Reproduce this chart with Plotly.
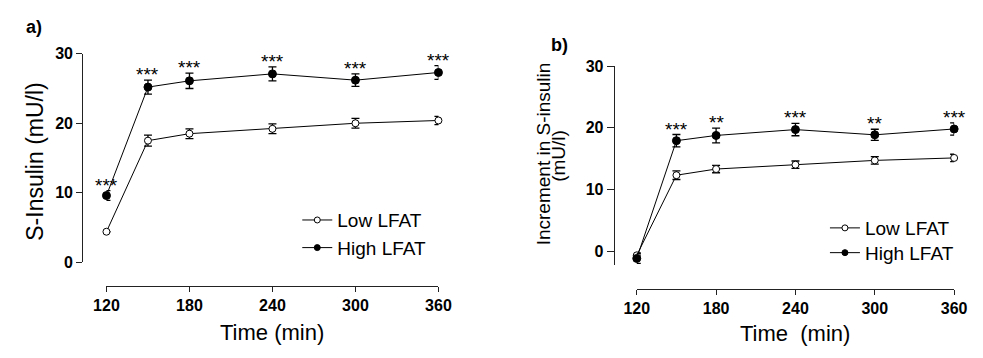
import plotly.graph_objects as go

W, H = 983, 358

# ---- data ----
time = [120, 150, 180, 240, 300, 360]
tick_vals = [120, 180, 240, 300, 360]

a_low = [4.4, 17.5, 18.5, 19.2, 20.0, 20.4]
a_low_err = [0.0, 0.8, 0.7, 0.7, 0.7, 0.6]
a_high = [9.6, 25.2, 26.1, 27.1, 26.2, 27.3]
a_high_err = [0.7, 1.0, 1.1, 1.0, 0.9, 1.0]
a_stars = ["***", "***", "***", "***", "***", "***"]

b_low = [-0.7, 12.3, 13.3, 14.0, 14.7, 15.1]
b_low_err = [0.4, 0.7, 0.6, 0.6, 0.6, 0.6]
b_high = [-1.2, 17.9, 18.75, 19.7, 18.85, 19.8]
b_high_err = [0.8, 1.0, 1.2, 1.0, 0.9, 1.0]
b_stars = ["", "***", "**", "***", "**", "***"]

a_yticks = [0, 10, 20, 30]
b_yticks = [0, 10, 20, 30]

FONT = "Arial, Liberation Sans, sans-serif"


def px(x):
    return x / W


def py(y):
    return 1 - y / H


fig = go.Figure()


def add_panel(xa, ya, low, low_err, high, high_err, leg_low, leg_high):
    common = dict(mode="lines+markers", line=dict(color="black", width=1),
                  cliponaxis=False, xaxis=xa, yaxis=ya, showlegend=False)
    fig.add_trace(go.Scatter(
        x=time, y=low,
        error_y=dict(type="data", array=low_err, color="black", thickness=1.3, width=4),
        marker=dict(symbol="circle", size=7, color="white", line=dict(color="black", width=1)),
        **common))
    fig.add_trace(go.Scatter(
        x=time, y=high,
        error_y=dict(type="data", array=high_err, color="black", thickness=1.3, width=4),
        marker=dict(symbol="circle", size=8, color="black", line=dict(color="black", width=1)),
        **common))
    # legend-only entries
    fig.add_trace(go.Scatter(
        x=[None], y=[None], name="Low LFAT", mode="lines+markers", xaxis=xa, yaxis=ya,
        line=dict(color="black", width=1),
        marker=dict(symbol="circle", size=6, color="white", line=dict(color="black", width=1)),
        legend=leg_low, showlegend=True))
    fig.add_trace(go.Scatter(
        x=[None], y=[None], name="High LFAT", mode="lines+markers", xaxis=xa, yaxis=ya,
        line=dict(color="black", width=1),
        marker=dict(symbol="circle", size=6, color="black", line=dict(color="black", width=1)),
        legend=leg_high, showlegend=True))


add_panel("x", "y", a_low, a_low_err, a_high, a_high_err, "legend", "legend2")
add_panel("x2", "y2", b_low, b_low_err, b_high, b_high_err, "legend3", "legend4")

annotations = []
for xa, ya, high, err, stars in [("x", "y", a_high, a_high_err, a_stars),
                                 ("x2", "y2", b_high, b_high_err, b_stars)]:
    for t, v, e, s in zip(time, high, err, stars):
        if s:
            annotations.append(dict(x=t, y=v + e, xref=xa, yref=ya, text=s, showarrow=False,
                                    yanchor="bottom", xanchor="center", yshift=-7,
                                    font=dict(family=FONT, size=19, color="black")))

# panel letters and titles
annotations += [
    dict(x=px(22), y=py(20), xref="paper", yref="paper", text="<b>a)</b>", showarrow=False,
         xanchor="center", yanchor="middle", font=dict(family=FONT, size=18, color="black")),
    dict(x=px(561), y=py(39), xref="paper", yref="paper", text="<b>b)</b>", showarrow=False,
         xanchor="center", yanchor="middle", font=dict(family=FONT, size=18, color="black")),
    dict(x=px(23), y=py(161), xref="paper", yref="paper", text="S-Insulin (mU/l)", textangle=-90,
         showarrow=False, xanchor="center", yanchor="middle", font=dict(family=FONT, size=23, color="black")),
    dict(x=px(545), y=py(153), xref="paper", yref="paper", text="Increment in S-insulin", textangle=-90,
         showarrow=False, xanchor="center", yanchor="middle", font=dict(family=FONT, size=19, color="black")),
    dict(x=px(560), y=py(155), xref="paper", yref="paper", text="(mU/l)", textangle=-90,
         showarrow=False, xanchor="center", yanchor="middle", font=dict(family=FONT, size=19, color="black")),
    dict(x=px(266), y=py(341), xref="paper", yref="paper", text="Time (min)", showarrow=False,
         xanchor="center", yanchor="middle", font=dict(family=FONT, size=22, color="black")),
    dict(x=px(803), y=py(342), xref="paper", yref="paper", text="Time\u00a0 (min)", showarrow=False,
         xanchor="center", yanchor="middle", font=dict(family=FONT, size=22, color="black")),
]

tickfont = dict(family=FONT, size=16, color="black", weight="bold")
axis_common = dict(showgrid=False, zeroline=False, showline=True, linecolor="#222", linewidth=1,
                   ticks="outside", tickcolor="#222", tickwidth=1, tickfont=tickfont)

fig.update_layout(
    width=W, height=H,
    margin=dict(l=0, r=0, t=0, b=0),
    paper_bgcolor="white", plot_bgcolor="white",
    xaxis=dict(domain=[px(96), px(437)], range=[120, 360], tickvals=tick_vals, anchor="free",
               position=py(292), ticklen=5, **axis_common),
    yaxis=dict(domain=[py(267), py(48)], range=[0, 30], tickvals=a_yticks, anchor="free",
               position=px(71), ticklen=6, **axis_common),
    xaxis2=dict(domain=[px(640.7), px(966.7)], range=[120, 360], tickvals=tick_vals, anchor="free",
                position=py(295), ticklen=5, **axis_common),
    yaxis2=dict(domain=[py(270), py(61)], range=[-2.3, 30], tickvals=b_yticks, anchor="free",
                position=px(617), ticklen=7, **axis_common),
    annotations=annotations,
)

leg_common = dict(xanchor="left", yanchor="middle", bgcolor="rgba(0,0,0,0)", borderwidth=0,
                  font=dict(family=FONT, size=19, color="black"))
fig.update_layout(
    legend=dict(x=px(292), y=py(222.7), **leg_common),
    legend2=dict(x=px(292), y=py(251.7), **leg_common),
    legend3=dict(x=px(834), y=py(231), **leg_common),
    legend4=dict(x=px(834), y=py(257), **leg_common),
)

fig.write_html("out.html", config={"displayModeBar": False},
               post_script="document.body.style.margin='0';document.body.style.overflow='hidden';"
                           "document.documentElement.style.overflow='hidden';")
